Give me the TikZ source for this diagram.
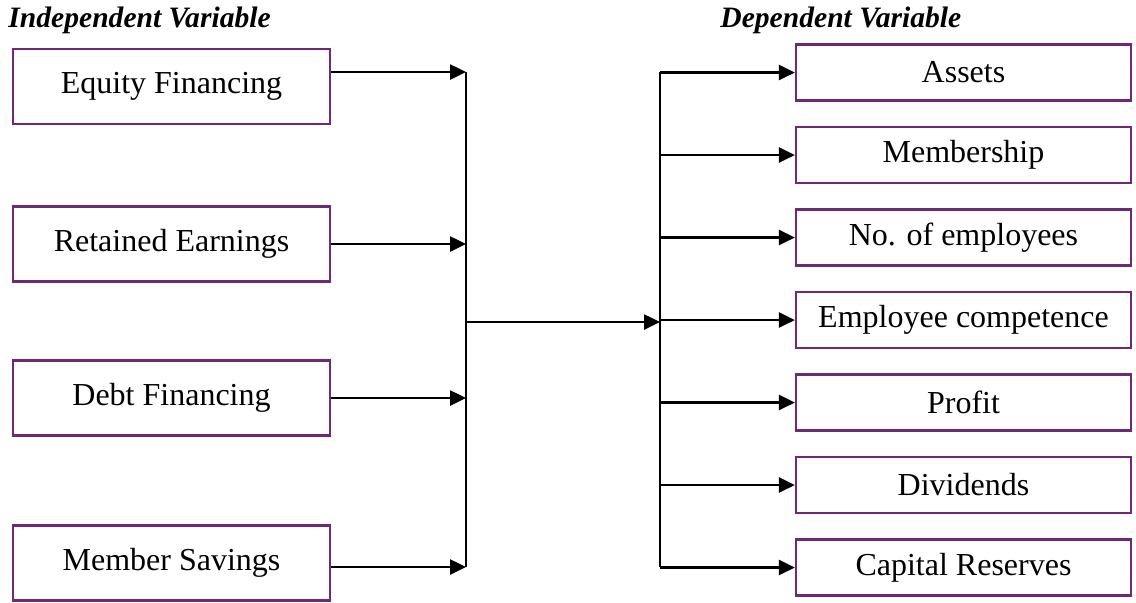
\documentclass[tikz,border=0pt]{standalone}
\usepackage{fontspec}
\setmainfont{Liberation Serif}
\usetikzlibrary{arrows.meta}
\definecolor{boxpurple}{RGB}{112,40,120}
\begin{document}
\begin{tikzpicture}[x=.5pt,y=-.5pt,
 indbox/.style={draw=boxpurple,line width=1.1pt,minimum width=158.5pt,minimum height=37.5pt,inner sep=0pt,font=\fontsize{16}{19}\selectfont},
 depbox/.style={indbox,minimum width=167.5pt,minimum height=28pt},
 arr/.style={-{Triangle[length=8pt,width=7.5pt]},line width=1.3pt},
 head/.style={anchor=west,inner sep=0pt,font=\fontsize{14.8}{17}\selectfont\bfseries\itshape}]
 \path[use as bounding box] (0,0) rectangle (1136,602);
 \node[head] (indep) at (8,20){Independent Variable};
 \node[head] (dep) at (720,20){Dependent Variable};
 % independent variables
 \node[indbox] (eq) at (171.5,86.5){Equity Financing};
 \node[indbox] (ret) at (171.5,244){Retained Earnings};
 \node[indbox] (debt) at (171.5,398){Debt Financing};
 \node[indbox] (sav) at (171.5,563){Member Savings};
 \coordinate (ltop) at (466,72);
 \coordinate (lbot) at (466,567);
 \coordinate (lmid) at (466,322);
 \coordinate (rmid) at (660,322);
 \coordinate (rtop) at (660,72);
 \coordinate (rbot) at (660,567);
 \draw[arr] (eq.east |- ltop) -- (ltop);
 \draw[arr] (ret.east) -- (ret.east -| ltop);
 \draw[arr] (debt.east) -- (debt.east -| ltop);
 \draw[arr] (sav.east |- lbot) -- (lbot);
 \draw[line width=1.3pt] (ltop) -- (lbot);
 \draw[arr] (lmid) -- (rmid);
 \draw[line width=1.3pt] (rtop) -- (rbot);
 % dependent variables
 \foreach \t [count=\i from 0] in {Assets,Membership,No. of employees,Employee competence,Profit,Dividends,Capital Reserves}{
  \node[depbox] (dv\i) at (963.5,72.5+82.5*\i){\t};
  \draw[arr] (dv\i.west -| rtop) -- (dv\i.west);}
\end{tikzpicture}
\end{document}
